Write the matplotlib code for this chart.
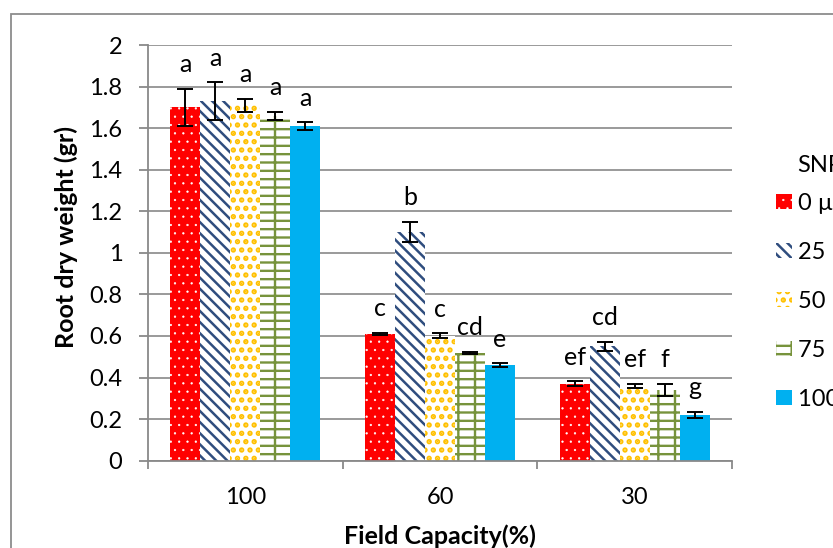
import matplotlib
matplotlib.use("Agg")
import matplotlib.pyplot as plt
import matplotlib.patches as mpatches
import numpy as np

plt.rcParams['font.family'] = ['Lato', 'DejaVu Sans']

# ---- data ----
categories = ["100", "60", "30"]
series_names = ["0 µM", "25 µM", "50 µM", "75 µM", "100 µM"]
values = {
    "0 µM":   [1.70, 0.61, 0.37],
    "25 µM":  [1.73, 1.10, 0.55],
    "50 µM":  [1.71, 0.60, 0.36],
    "75 µM":  [1.66, 0.52, 0.34],
    "100 µM": [1.61, 0.46, 0.22],
}
errors = {
    "0 µM":   [0.09, 0.005, 0.013],
    "25 µM":  [0.09, 0.05, 0.023],
    "50 µM":  [0.032, 0.012, 0.01],
    "75 µM":  [0.02, 0.005, 0.03],
    "100 µM": [0.02, 0.01, 0.015],
}
letters = {
    "0 µM":   ["a", "c", "ef"],
    "25 µM":  ["a", "b", "cd"],
    "50 µM":  ["a", "c", "ef"],
    "75 µM":  ["a", "cd", "f"],
    "100 µM": ["a", "e", "g"],
}
yticks = [0, 0.2, 0.4, 0.6, 0.8, 1, 1.2, 1.4, 1.6, 1.8, 2]
ytick_labels = ["0", "0.2", "0.4", "0.6", "0.8", "1", "1.2", "1.4", "1.6", "1.8", "2"]

# ---- styles ----
styles = [
    dict(facecolor="#FF0000", edgecolor="white", hatch="..", hlw=0.4),
    dict(facecolor="white", edgecolor="#2F4D7E", hatch="\\\\\\", hlw=1.8),
    dict(facecolor="white", edgecolor="#FFC000", hatch="..", hlw=2.6),
    dict(facecolor="white", edgecolor="#77933C", hatch="--|", hlw=1.7),
    dict(facecolor="#00B0F0", edgecolor="#00B0F0", hatch=None, hlw=1.0),
]


def with_hatch_lw(artist, lw):
    if hasattr(artist, "set_hatch_linewidth"):
        artist.set_hatch_linewidth(lw)
    orig = artist.draw

    def draw(renderer):
        with plt.rc_context({"hatch.linewidth": lw}):
            orig(renderer)
    artist.draw = draw


W, H = 833, 548
fig = plt.figure(figsize=(W / 100, H / 100), dpi=100)
ax = fig.add_axes([148 / W, 1 - 460.7 / H, (732 - 148) / W, (460.7 - 45) / H])

x = np.arange(len(categories))
bw = 0.1538
handles = []
for i, name in enumerate(series_names):
    st = styles[i]
    offs = (i - 2) * bw
    with plt.rc_context({"hatch.linewidth": st["hlw"]}):
        bars = ax.bar(x + offs, values[name], width=bw, facecolor=st["facecolor"],
                      edgecolor=st["edgecolor"], hatch=st["hatch"], linewidth=0,
                      zorder=2, label=name)
    for b in bars:
        with_hatch_lw(b, st["hlw"])
    handles.append(bars)
    ax.errorbar(x + offs, values[name], yerr=errors[name], fmt="none", ecolor="black",
                elinewidth=1.4, capsize=5.5, capthick=1.4, zorder=3)
    for xi, v, e, lab in zip(x + offs, values[name], errors[name], letters[name]):
        ax.text(xi, v + e + 0.115, lab, ha="center", va="center", fontsize=18, zorder=4)

ax.set_xlim(-0.5, 2.5)
ax.set_ylim(0, 2)
ax.set_yticks(yticks)
ax.set_yticklabels(ytick_labels)
ax.set_xticks(x)
ax.set_xticklabels(categories)
ax.set_xticks([-0.5, 0.5, 1.5, 2.5], minor=True)
ax.tick_params(axis="x", which="major", length=0, pad=19, labelsize=17)
ax.tick_params(axis="x", which="minor", length=6, width=1.3, color="#898989", direction="out")
ax.tick_params(axis="y", length=6.5, width=1.3, color="#898989", pad=12, labelsize=17)

ax.yaxis.grid(True, color="#898989", linewidth=1.2, zorder=0)
ax.set_axisbelow(True)
for s in ["top", "right"]:
    ax.spines[s].set_visible(False)
for s in ["left", "bottom"]:
    ax.spines[s].set_color("#898989")
    ax.spines[s].set_linewidth(1.3)

ax.set_ylabel("Root dry weight (gr)", fontsize=18, fontweight="bold", va="center", ha="center")
ax.yaxis.set_label_coords((66 - 148) / 584, (548 - 237 - 87.3) / 415.7)
ax.set_xlabel("Field Capacity(%)", fontsize=18, fontweight="bold", va="baseline")
ax.xaxis.set_label_coords(0.5, (4 - 87.3) / 415.7)

with plt.rc_context({"hatch.linewidth": 1.7}):
    leg = fig.legend(handles=handles, labels=series_names, loc="center left",
                     bbox_to_anchor=(776 / W, 1 - 301.4 / H), frameon=False, fontsize=17,
                     handlelength=0.68, handleheight=0.6, handletextpad=0.25,
                     labelspacing=1.18, borderpad=0, borderaxespad=0)
for h, st in zip(leg.legend_handles, styles):
    with_hatch_lw(h, st["hlw"])
fig.text(797 / W, 1 - 165 / H, "SNP", fontsize=17, ha="left", va="center")

border = mpatches.Rectangle((11 / W, -0.2), 1.2, (548 - 14) / H + 0.2, transform=fig.transFigure,
                            fill=False, edgecolor="#8C8C8C", linewidth=1.3, zorder=0)
fig.patches.append(border)

fig.savefig("out.png", dpi=100)
